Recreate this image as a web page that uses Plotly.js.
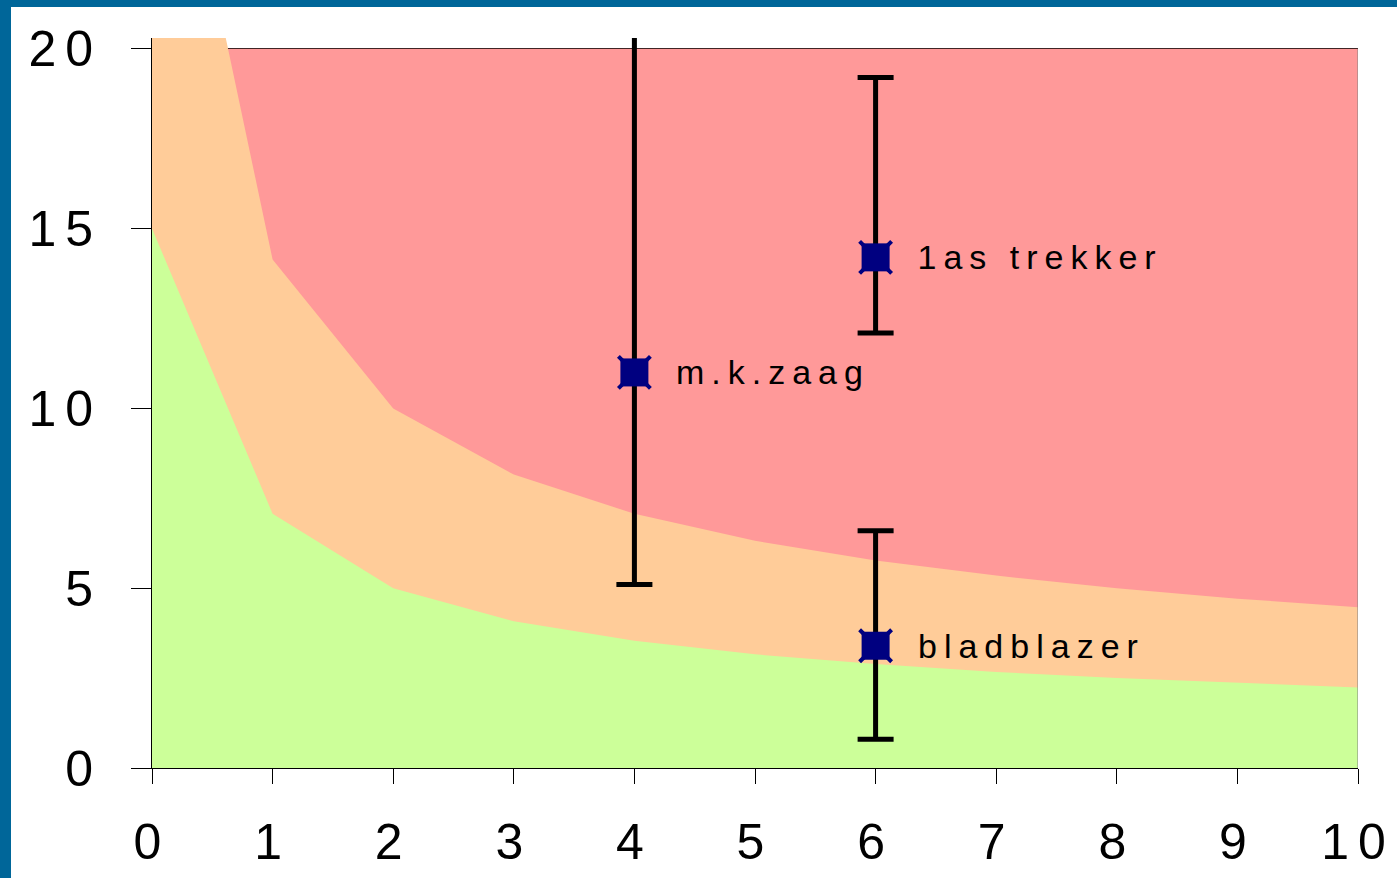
<!DOCTYPE html>
<html>
<head>
<meta charset="utf-8">
<script src="https://cdn.plot.ly/plotly-3.0.1.min.js"></script>
<style>
html,body{margin:0;padding:0;background:#fff;}
#frame{position:absolute;left:0;top:0;width:1386px;height:871px;border-top:7px solid #006699;border-left:11px solid #006699;background:#fff;}
#chart{width:1386px;height:871px;}
</style>
</head>
<body>
<div id="frame"><div id="chart"></div></div>
<script>
// Data
const xCat = [0, 1, 2, 3, 4, 5, 6, 7, 8, 9, 10];
const greenTop = [15, 7.07, 5.0, 4.08, 3.54, 3.16, 2.89, 2.67, 2.5, 2.36, 2.24];
const orangeTop = [30, 14.14, 10.0, 8.16, 7.07, 6.32, 5.77, 5.35, 5.0, 4.71, 4.47];
const redTop = [20, 20, 20, 20, 20, 20, 20, 20, 20, 20, 20];

const pointNames = ["m.k.zaag", "1as trekker", "bladblazer"];
const pointX = [4, 6, 6];
const pointY = [11.0, 14.2, 3.4];
const errPlus = [9.5, 5.0, 3.2];
const errMinus = [5.9, 2.1, 2.6];

const xTicks = [0, 1, 2, 3, 4, 5, 6, 7, 8, 9, 10];
const yTicks = [0, 5, 10, 15, 20];

const FONT = "Liberation Sans, Arial, sans-serif";
const LABEL_SPACING = 7;

const traces = [
  {x: xCat, y: redTop, type: "scatter", mode: "lines", line: {width: 0, color: "#FF9999"},
   fill: "tozeroy", fillcolor: "#FF9999", hoverinfo: "skip"},
  {x: xCat, y: orangeTop, type: "scatter", mode: "lines", line: {width: 0, color: "#FFCC99"},
   fill: "tozeroy", fillcolor: "#FFCC99", hoverinfo: "skip"},
  {x: xCat, y: greenTop, type: "scatter", mode: "lines", line: {width: 0, color: "#CCFF99"},
   fill: "tozeroy", fillcolor: "#CCFF99", hoverinfo: "skip"},
  {x: pointX, y: pointY, type: "scatter", mode: "markers",
   marker: {symbol: "square", size: 28, color: "#000080"},
   error_y: {type: "data", symmetric: false, array: errPlus, arrayminus: errMinus,
             color: "#000000", thickness: 5, width: 18}},
  {x: pointX, y: pointY, type: "scatter", mode: "markers",
   marker: {symbol: "x-thin", size: 32, color: "#000080", line: {color: "#000080", width: 4}}}
];

const annotations = pointNames.map((t, i) => ({
  x: pointX[i], y: pointY[i], xref: "x", yref: "y", text: t, showarrow: false,
  xanchor: "left", yanchor: "middle", xshift: 40 + LABEL_SPACING * t.length / 2, yshift: 0,
  font: {family: FONT, size: 34, color: "#000000"}
}));

const layout = {
  width: 1386, height: 871,
  margin: {l: 141, r: 39, t: 31, b: 110},
  paper_bgcolor: "#ffffff", plot_bgcolor: "#ffffff",
  showlegend: false,
  xaxis: {range: [0, 10], tickvals: xTicks, ticktext: xTicks.map(String),
          ticks: "outside", ticklen: 15, tickwidth: 1, tickcolor: "#000",
          showline: true, linecolor: "#000", linewidth: 1, showgrid: false, zeroline: false,
          tickfont: {family: FONT, size: 50, color: "#000"}, ticklabelstandoff: 15},
  yaxis: {range: [0, 20.3], tickvals: yTicks, ticktext: yTicks.map(String),
          ticks: "outside", ticklen: 20, tickwidth: 1, tickcolor: "#000",
          showline: true, linecolor: "#000", linewidth: 1,
          showgrid: true, gridcolor: "#000", gridwidth: 1, zeroline: false,
          tickfont: {family: FONT, size: 50, color: "#000"}, ticklabelstandoff: 19},
  shapes: [
    {type: "line", xref: "x", yref: "y", x0: 10, x1: 10, y0: 0, y1: 20,
     line: {color: "#808080", width: 1}, layer: "above"}
  ],
  annotations: annotations
};

Plotly.newPlot("chart", traces, layout, {staticPlot: true}).then(() => {
  document.querySelectorAll(".xtick text, .ytick text").forEach(t => { t.style.letterSpacing = "9px"; });
  document.querySelectorAll(".annotation-text").forEach(t => { t.style.letterSpacing = LABEL_SPACING + "px"; });
});
</script>
</body>
</html>
